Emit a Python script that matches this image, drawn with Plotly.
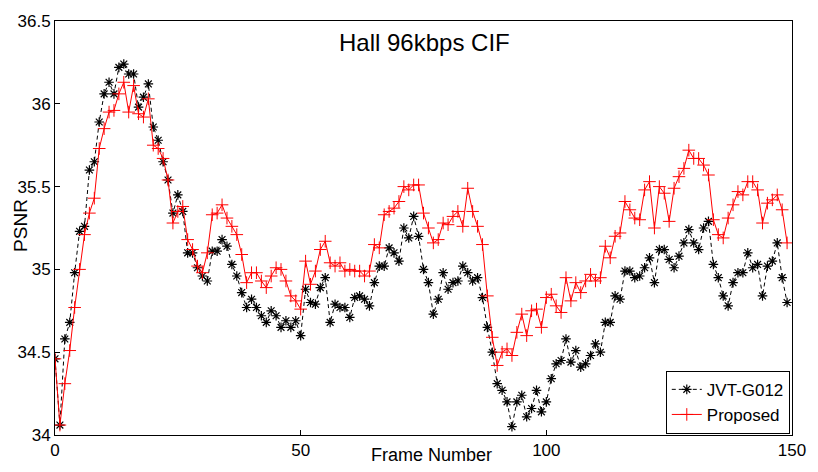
import plotly.graph_objects as go

frames = list(range(150))

jvt_g012 = [
    34.46, 34.06, 34.58, 34.68, 34.98, 35.23, 35.26, 35.60, 35.65, 35.89,
    36.06, 36.13, 36.06, 36.22, 36.24, 36.18, 36.18, 35.98, 36.04, 36.12,
    35.86, 35.78, 35.65, 35.54, 35.34, 35.45, 35.35, 35.10, 35.10, 35.01,
    34.96, 34.93, 35.11, 35.11, 35.18, 35.14, 35.03, 34.96, 34.86, 34.77,
    34.82, 34.77, 34.72, 34.68, 34.75, 34.72, 34.65, 34.69, 34.65, 34.69,
    34.60, 34.88, 34.80, 34.79, 34.89, 34.95, 34.68, 34.79, 34.77, 34.77,
    34.71, 34.83, 34.84, 34.82, 34.78, 34.92, 35.02, 35.02, 35.13, 35.10,
    35.05, 35.25, 35.19, 35.32, 35.20, 35.00, 34.92, 34.73, 34.82, 34.98,
    34.88, 34.92, 34.93, 35.02, 34.98, 34.93, 34.95, 34.83, 34.65, 34.50,
    34.31, 34.27, 34.20, 34.05, 34.20, 34.24, 34.11, 34.16, 34.27, 34.14,
    34.20, 34.34, 34.43, 34.45, 34.58, 34.44, 34.51, 34.41, 34.43, 34.48,
    34.55, 34.50, 34.68, 34.68, 34.84, 34.82, 34.99, 34.99, 34.95, 34.96,
    35.01, 35.07, 34.92, 35.12, 35.12, 35.06, 35.01, 35.08, 35.16, 35.24,
    35.16, 35.12, 35.25, 35.29, 35.03, 34.95, 34.84, 34.78, 34.92, 34.98,
    34.98, 35.10, 35.01, 35.03, 34.84, 35.02, 35.05, 35.16, 34.95, 34.80,
]

proposed = [
    34.46, 34.06, 34.31, 34.51, 34.77, 35.00, 35.21, 35.34, 35.43, 35.73,
    35.85, 35.95, 35.96, 36.06, 36.13, 35.95, 36.11, 35.94, 35.92, 36.03,
    35.75, 35.73, 35.67, 35.54, 35.28, 35.35, 35.38, 35.18, 35.12, 35.02,
    34.98, 35.10, 35.33, 35.34, 35.39, 35.31, 35.26, 35.21, 35.09, 34.92,
    34.98, 34.98, 34.93, 34.89, 34.96, 35.01, 35.00, 34.93, 34.84, 34.81,
    34.76, 35.05, 34.91, 34.99, 35.12, 35.17, 35.04, 35.02, 35.04, 34.99,
    35.00, 34.99, 34.99, 34.96, 34.99, 35.15, 35.13, 35.33, 35.35, 35.37,
    35.41, 35.50, 35.48, 35.51, 35.51, 35.34, 35.25, 35.16, 35.18, 35.28,
    35.27, 35.32, 35.35, 35.26, 35.49, 35.35, 35.26, 35.15, 34.84, 34.59,
    34.42, 34.50, 34.52, 34.48, 34.62, 34.73, 34.60, 34.75, 34.76, 34.65,
    34.83, 34.85, 34.78, 34.74, 34.95, 34.81, 34.92, 34.86, 34.93, 34.97,
    34.93, 34.95, 35.14, 35.07, 35.20, 35.22, 35.41, 35.36, 35.31, 35.30,
    35.48, 35.53, 35.25, 35.50, 35.46, 35.29, 35.49, 35.56, 35.61, 35.72,
    35.67, 35.67, 35.63, 35.57, 35.30, 35.21, 35.19, 35.31, 35.39, 35.47,
    35.45, 35.53, 35.53, 35.48, 35.28, 35.40, 35.42, 35.45, 35.36, 35.16,
]

x_ticks = [0, 50, 100, 150]
y_ticks = [34, 34.5, 35, 35.5, 36, 36.5]
y_tick_labels = ["34", "34.5", "35", "35.5", "36", "36.5"]

FONT = "Liberation Sans, Arial, sans-serif"

fig = go.Figure()
fig.add_trace(go.Scatter(
    x=frames, y=jvt_g012, name="JVT-G012", mode="lines+markers",
    line=dict(color="black", width=1, dash="4px,3px"),
    marker=dict(symbol="asterisk-open", size=8, color="black",
                line=dict(color="black", width=1.2)),
))
fig.add_trace(go.Scatter(
    x=frames, y=proposed, name="Proposed", mode="lines+markers",
    line=dict(color="red", width=1),
    marker=dict(symbol="cross-thin-open", size=9, color="red",
                line=dict(color="red", width=1)),
))

axis_common = dict(
    showline=True, mirror=True, linecolor="black", linewidth=1,
    ticks="inside", ticklen=5, tickcolor="black", showgrid=False,
    zeroline=False, tickfont=dict(family=FONT, size=17, color="black"),
)

fig.update_layout(
    width=818, height=472,
    margin=dict(l=55, r=19, t=18, b=37),
    paper_bgcolor="white", plot_bgcolor="white",
    xaxis=dict(range=[0, 150], tickvals=x_ticks, **axis_common),
    yaxis=dict(range=[34, 36.5], tickvals=y_ticks, ticktext=y_tick_labels,
               **axis_common),
    showlegend=True,
    legend=dict(x=0.997, y=0.079, xanchor="right", yanchor="middle",
                bgcolor="white", bordercolor="black", borderwidth=1,
                font=dict(family=FONT, size=17, color="black"),
                tracegroupgap=0),
    annotations=[
        dict(text="Hall 96kbps CIF", xref="paper", yref="paper",
             x=0.501, y=0.947, yanchor="middle", showarrow=False,
             font=dict(family=FONT, size=24, color="black")),
        dict(text="Frame Number", xref="paper", yref="paper",
             x=0.511, y=0, yshift=-20, yanchor="middle", showarrow=False,
             font=dict(family=FONT, size=18, color="black")),
        dict(text="PSNR", xref="paper", yref="paper", textangle=-90,
             x=0, xshift=-34, y=0.505, xanchor="center", yanchor="middle",
             showarrow=False,
             font=dict(family=FONT, size=19, color="black")),
    ],
)

fig.write_html("out.html")
